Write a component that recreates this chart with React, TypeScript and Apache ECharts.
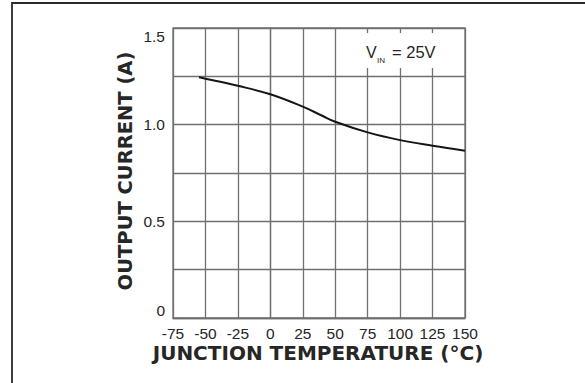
import React, { useEffect, useRef } from "react";
import * as echarts from "echarts";

// Output current vs. junction temperature (VIN = 25 V)
const temperatureC = [-55, -50, -25, 0, 25, 40, 50, 75, 100, 125, 150];
const outputCurrentA = [1.245, 1.238, 1.201, 1.157, 1.093, 1.046, 1.015, 0.96, 0.92, 0.891, 0.865];
const yTickLabels: Record<string, string> = { "0": "0", "0.5": "0.5", "1": "1.0", "1.5": "1.5" };

const GRID = "#707070";
const INK = "#262626";
const SANS = "Liberation Sans, Arial, sans-serif";

export default function App() {
  const ref = useRef<HTMLDivElement>(null);

  useEffect(() => {
    if (!ref.current) return;
    const chart = echarts.init(ref.current, undefined, { renderer: "svg" });
    const points = temperatureC.map((t, i) => [t, outputCurrentA[i]]);
    chart.setOption({
      animation: false,
      backgroundColor: "#ffffff",
      grid: { left: 173, top: 28, width: 292, height: 290, show: true, borderColor: GRID, borderWidth: 1.3 },
      xAxis: {
        type: "value",
        min: -75,
        max: 150,
        interval: 25,
        axisLine: { show: true, lineStyle: { color: GRID, width: 1.3 } },
        axisTick: { show: false },
        splitLine: { show: true, lineStyle: { color: GRID, width: 1.3 } },
        axisLabel: { fontSize: 15.5, color: INK, margin: 7, fontFamily: SANS },
      },
      yAxis: {
        type: "value",
        min: 0,
        max: 1.5,
        interval: 0.25,
        axisLine: { show: true, lineStyle: { color: GRID, width: 1.3 } },
        axisTick: { show: false },
        splitLine: { show: true, lineStyle: { color: GRID, width: 1.3 } },
        axisLabel: {
          fontSize: 15.5,
          color: INK,
          margin: 8,
          fontFamily: SANS,
          verticalAlignMinLabel: "bottom",
          verticalAlignMaxLabel: "top",
          formatter: (v: number) => yTickLabels[String(Math.round(v * 100) / 100)] ?? "",
        },
      },
      series: [
        {
          type: "line",
          data: points,
          smooth: 0.4,
          showSymbol: false,
          lineStyle: { color: "#151515", width: 2 },
        },
      ],
      graphic: [
        {
          type: "rect",
          shape: { x: 12, y: 3, width: 700, height: 500 },
          style: { fill: "none", stroke: "#2b2b2b", lineWidth: 1.8 },
          silent: true,
        },
        {
          type: "rect",
          z: 100,
          shape: { x: 360, y: 33, width: 84, height: 35 },
          style: { fill: "#ffffff" },
        },
        {
          type: "text",
          z: 101,
          x: 366,
          y: 52,
          style: { text: "V", fontSize: 16, fill: INK, fontFamily: SANS, verticalAlign: "middle" },
        },
        {
          type: "text",
          z: 101,
          x: 377,
          y: 60,
          style: { text: "IN", fontSize: 8, fill: INK, fontFamily: SANS, verticalAlign: "middle" },
        },
        {
          type: "text",
          z: 101,
          x: 392,
          y: 52,
          style: { text: "= 25V", fontSize: 16.5, fill: INK, fontFamily: SANS, verticalAlign: "middle" },
        },
        {
          type: "text",
          x: 318,
          y: 352.5,
          style: {
            text: "JUNCTION TEMPERATURE (°C)",
            fontSize: 20,
            fontWeight: "bold",
            fill: INK,
            fontFamily: "DejaVu Sans, sans-serif",
            align: "center",
            verticalAlign: "middle",
          },
        },
        {
          type: "text",
          x: 125,
          y: 171,
          rotation: Math.PI / 2,
          style: {
            text: "OUTPUT CURRENT (A)",
            fontSize: 19.5,
            fontWeight: "bold",
            fill: INK,
            fontFamily: "DejaVu Sans, sans-serif",
            align: "center",
            verticalAlign: "middle",
          },
        },
      ],
    });
    return () => chart.dispose();
  }, []);

  return <div ref={ref} style={{ position: "fixed", left: 0, top: 0, width: 585, height: 383 }} />;
}
